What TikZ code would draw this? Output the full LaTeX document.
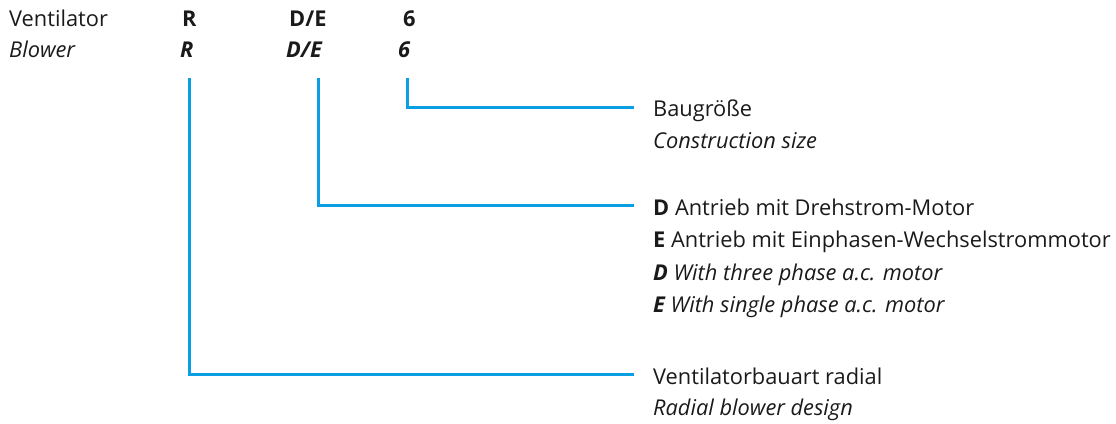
\documentclass[tikz,border=0pt]{standalone}
\usepackage{fontspec}
\setmainfont{Open Sans}
\definecolor{lineblue}{HTML}{0A9FE2}
\definecolor{textgray}{HTML}{1A1A1A}
\begin{document}
\begin{tikzpicture}[x=1pt,y=-1pt,
  lbl/.style={anchor=base west,inner sep=0pt,font=\fontsize{21.8}{26}\selectfont,text=textgray},
  conn/.style={draw=lineblue,line width=3pt}]
\useasboundingbox (0,0) rectangle (1116,423);
% header rows
\node[lbl] (vent) at (9,26) {Ventilator};
\node[lbl] (blow) at (9,57.5) {\itshape Blower};
\node[lbl] (r1) at (182,26) {\bfseries R};
\node[lbl] (de1) at (289,26) {\bfseries D/E};
\node[lbl] (s1) at (403,26) {\bfseries 6};
\node[lbl] (r2) at (180,57.5) {\bfseries\itshape R};
\node[lbl] (de2) at (286,57.5) {\bfseries\itshape D/E};
\node[lbl] (s2) at (398,57.5) {\bfseries\itshape 6};
% right descriptions
\node[lbl] (bg) at (653,116.5) {Baugröße};
\node[lbl] (cs) at (653,148.5) {\itshape Construction size};
\node[lbl] (d1) at (653,215) {\textbf{D} Antrieb mit Drehstrom-Motor};
\node[lbl] (e1) at (653,247.5) {\textbf{E} Antrieb mit Einphasen-Wechselstrommotor};
\node[lbl] (d2) at (653,280) {\itshape\textbf{D} With three phase a.c. motor};
\node[lbl] (e2) at (653,312) {\itshape\textbf{E} With single phase a.c. motor};
\node[lbl] (vr) at (653,384) {Ventilatorbauart radial};
\node[lbl] (rb) at (653,415.5) {\itshape Radial blower design};
% connector coordinates
\coordinate (tR) at (189,78);
\coordinate (tD) at (318,78);
\coordinate (tS) at (407,78);
\coordinate (eS) at (634,107.5);
\coordinate (eD) at (634,205);
\coordinate (eR) at (634,374);
\draw[conn] (tS) |- (eS);
\draw[conn] (tD) |- (eD);
\draw[conn] (tR) |- (eR);
\end{tikzpicture}
\end{document}
